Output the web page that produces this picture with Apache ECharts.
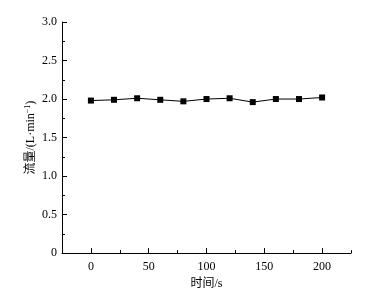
<!DOCTYPE html>
<html><head><meta charset="utf-8">
<script src="https://cdn.jsdelivr.net/npm/echarts@6/dist/echarts.min.js"></script>
<style>html,body{margin:0;padding:0;background:#fff}#c{width:381px;height:295px}</style>
</head><body><div id="c"></div>
<script>
const times = [0, 20, 40, 60, 80, 100, 120, 140, 160, 180, 200];
const flow = [1.98, 1.99, 2.01, 1.99, 1.97, 2.00, 2.01, 1.96, 2.00, 2.00, 2.02];
const xMajor = [0, 50, 100, 150, 200];
const xMinor = [25, 75, 125, 175, 225];
const fontFam = '"Liberation Serif", "Noto Sans CJK SC", serif';
const chart = echarts.init(document.getElementById('c'));
chart.setOption({
  animation: false,
  grid: {left: 62, top: 22, right: 30, bottom: 41},
  xAxis: [{
    type: 'value', min: -25, max: 225,
    name: '时间/s', nameLocation: 'middle', nameGap: 22,
    nameTextStyle: {color: '#000', fontFamily: fontFam, fontSize: 12},
    axisLine: {show: true, onZero: false, lineStyle: {color: '#000', width: 1}},
    axisTick: {show: true, inside: true, length: 5, customValues: xMajor, lineStyle: {color: '#000'}},
    axisLabel: {customValues: xMajor, color: '#000', fontFamily: fontFam, fontSize: 12, margin: 8},
    splitLine: {show: false}
  }, {
    type: 'value', min: -25, max: 225, position: 'bottom', gridIndex: 0,
    axisLine: {show: false, onZero: false},
    axisTick: {show: true, inside: true, length: 3, customValues: xMinor, lineStyle: {color: '#000'}},
    axisLabel: {show: false},
    splitLine: {show: false}
  }],
  yAxis: {
    type: 'value', min: 0, max: 3, interval: 0.5,
    name: '流量/(L·min{sup|−1})', nameLocation: 'middle', nameGap: 24, nameMoveOverlap: false,
    nameTextStyle: {color: '#000', fontFamily: fontFam, fontSize: 12,
      rich: {sup: {fontSize: 8, verticalAlign: 'top', padding: [0,0,6,0], fontFamily: fontFam, color: '#000'}}},
    axisLine: {show: true, onZero: false, lineStyle: {color: '#000', width: 1}},
    axisTick: {show: true, inside: true, length: 5, lineStyle: {color: '#000'}},
    minorTick: {show: true, splitNumber: 2, length: 3, lineStyle: {color: '#000'}},
    axisLabel: {color: '#000', fontFamily: fontFam, fontSize: 12, margin: 5,
      formatter: v => v === 0 ? '0' : v.toFixed(1)},
    splitLine: {show: false}
  },
  series: [{
    type: 'line', data: times.map((t, i) => [t, flow[i]]),
    symbol: 'rect', symbolSize: 6,
    lineStyle: {color: '#000', width: 1},
    itemStyle: {color: '#000'}
  }]
});
</script></body></html>
